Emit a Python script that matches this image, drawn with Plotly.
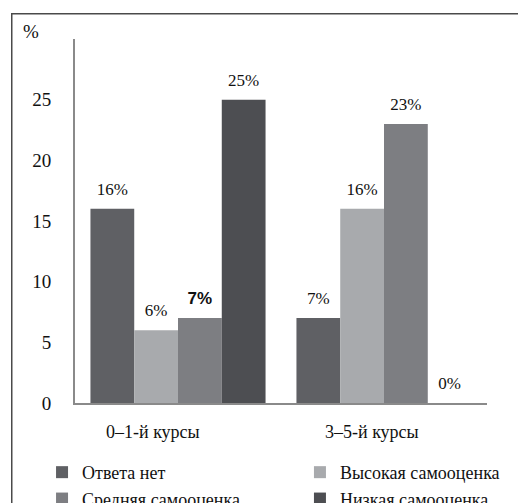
import plotly.graph_objects as go

categories = ["0–1-й курсы", "3–5-й курсы"]
series_names = ["Ответа нет", "Высокая самооценка", "Средняя самооценка", "Низкая самооценка"]
no_answer = [16, 7]
high_se = [6, 16]
mid_se = [7, 23]
low_se = [25, 0]
y_ticks = [0, 5, 10, 15, 20, 25]

series_values = [no_answer, high_se, mid_se, low_se]
colors = ["#5f6064", "#a8aaad", "#7d7e82", "#4d4e52"]
legend_ids = ["legend", "legend2", "legend", "legend2"]
SERIF = "Liberation Serif, Times New Roman, serif"
SANS = "Liberation Sans, Arial, sans-serif"

fig = go.Figure()
for i, (name, vals) in enumerate(zip(series_names, series_values)):
    fig.add_trace(go.Bar(
        x=categories, y=vals, name=name,
        marker=dict(color=colors[i], line=dict(width=0)),
        offsetgroup=str(i), hoverinfo="skip", legend=legend_ids[i],
    ))
for i, (name, vals) in enumerate(zip(series_names, series_values)):
    fams = [SERIF, SERIF]
    weights = ["normal", "normal"]
    if i == 2:
        fams = [SANS, SERIF]
        weights = ["bold", "normal"]
    fig.add_trace(go.Scatter(
        x=categories, y=vals, mode="markers+text",
        text=[f"{v}%" for v in vals], textposition="top center",
        marker=dict(size=14, opacity=0),
        textfont=dict(family=fams, size=17, color="#111111", weight=weights),
        offsetgroup=str(i), showlegend=False, hoverinfo="skip", cliponaxis=False,
    ))

cat_shift = [-25, -12]
for c, dx in zip(categories, cat_shift):
    fig.add_annotation(x=c, y=0, xref="x", yref="y", text=c, showarrow=False,
                       yshift=-29, xshift=dx, yanchor="middle",
                       font=dict(family=SERIF, size=18, color="#111111"))

fig.add_annotation(x=-0.108, y=1.02, xref="paper", yref="paper", text="%",
                   showarrow=False, xanchor="center", yanchor="middle",
                   font=dict(family=SERIF, size=19, color="#111111"))

# outer frame: a large bordered, empty annotation box whose right/bottom run off the picture
fig.add_annotation(x=-0.155, y=1.072, xref="paper", yref="paper", text=" ",
                   showarrow=False, xanchor="left", yanchor="top",
                   width=700, height=700, borderpad=0, borderwidth=1.5,
                   bordercolor="#4a4a4a", bgcolor="rgba(0,0,0,0)")

leg_common = dict(orientation="v", yanchor="top", xanchor="left", itemwidth=30,
                  tracegroupgap=0, bgcolor="rgba(0,0,0,0)",
                  font=dict(family=SERIF, size=18, color="#111111"))

fig.update_layout(
    width=518, height=495,
    margin=dict(l=67, r=39, t=31, b=100, autoexpand=False),
    paper_bgcolor="white", plot_bgcolor="white",
    barmode="group", bargap=0.15, bargroupgap=0,
    scattermode="group", scattergap=0.15,
    font=dict(family=SERIF, size=16, color="#111111"),
    xaxis=dict(showticklabels=False, showline=True, linecolor="#8a8a8a", linewidth=2,
               showgrid=False, zeroline=False, ticks=""),
    yaxis=dict(range=[0, 30], tickvals=y_ticks, showline=True, linecolor="#8a8a8a",
               linewidth=2, showgrid=False, zeroline=False, ticks="",
               ticklabelstandoff=18, tickfont=dict(family=SERIF, size=19, color="#111111")),
    legend=dict(x=-0.08, y=-0.14, **leg_common),
    legend2=dict(x=0.546, y=-0.14, **leg_common),
    showlegend=True,
)

fig.write_html("out.html")
